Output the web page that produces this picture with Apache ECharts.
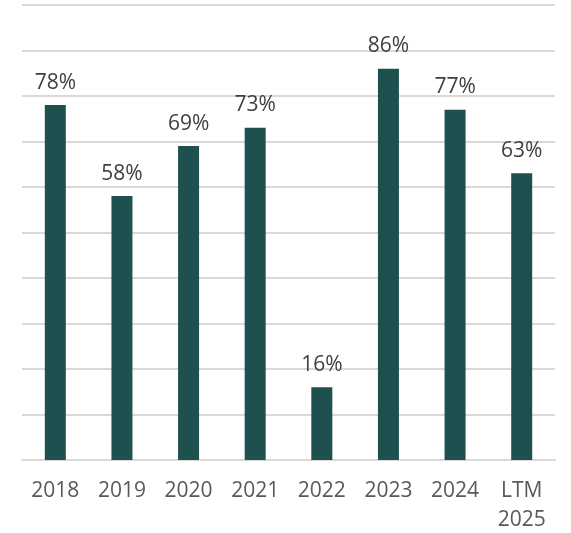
<!DOCTYPE html>
<html>
<head>
<meta charset="utf-8">
<script src="https://cdn.jsdelivr.net/npm/echarts@6/dist/echarts.min.js"></script>
<style>
  html, body { margin: 0; padding: 0; background: #fff; }
  #chart { width: 571px; height: 533px; }
</style>
</head>
<body>
<div id="chart"></div>
<script>
const categories = ["2018", "2019", "2020", "2021", "2022", "2023", "2024", "LTM\n2025"];
const values = [78, 58, 69, 73, 16, 86, 77, 63];

const chart = echarts.init(document.getElementById("chart"));
chart.setOption({
  animation: false,
  backgroundColor: "#ffffff",
  grid: { left: 22, right: 16, top: 5, bottom: 73, outerBoundsMode: "none" },
  xAxis: {
    type: "category",
    data: categories,
    axisTick: { show: false },
    axisLine: { lineStyle: { color: "#d9d9d9", width: 2 } },
    axisLabel: {
      color: "#595959",
      fontFamily: "Open Sans",
      fontSize: 21,
      lineHeight: 29,
      margin: 17
    }
  },
  yAxis: {
    type: "value",
    min: 0,
    max: 100,
    interval: 10,
    axisLabel: { show: false },
    axisLine: { show: false },
    axisTick: { show: false },
    splitLine: { lineStyle: { color: "#d9d9d9", width: 2 } }
  },
  series: [{
    type: "bar",
    data: values,
    barWidth: 21,
    itemStyle: { color: "#1f5050" },
    label: {
      show: true,
      position: "top",
      distance: 12,
      formatter: "{c}%",
      color: "#404040",
      fontFamily: "Open Sans",
      fontSize: 21
    }
  }]
});
</script>
</body>
</html>
